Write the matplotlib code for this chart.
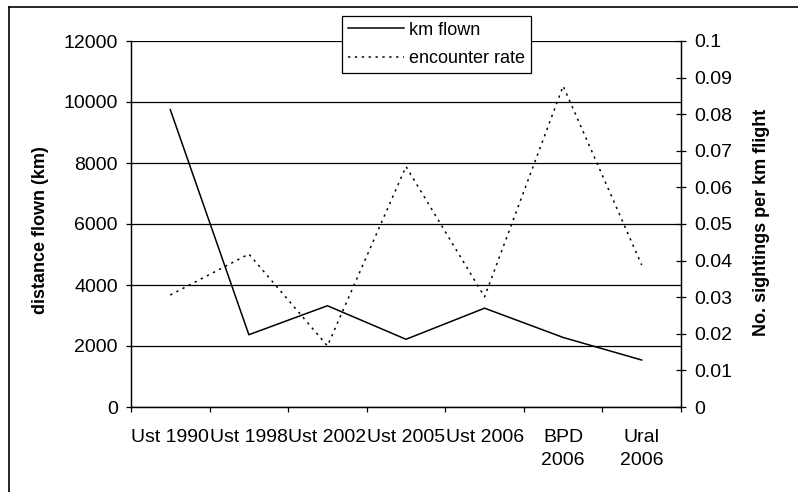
import matplotlib.pyplot as plt
from matplotlib.lines import Line2D
import numpy as np

plt.rcParams['font.family'] = ['Liberation Sans', 'DejaVu Sans']

surveys = ["Ust 1990", "Ust 1998", "Ust 2002", "Ust 2005", "Ust 2006", "BPD\n2006", "Ural\n2006"]
km_flown = [9750, 2370, 3320, 2220, 3240, 2280, 1540]
encounter_rate = [0.0306, 0.0418, 0.0167, 0.0657, 0.0301, 0.0877, 0.0388]

fig = plt.figure(figsize=(7.98, 4.92), dpi=100)
ax = fig.add_axes([131 / 798, 85 / 492, 550 / 798, 366 / 492])
ax2 = ax.twinx()

dotted = (0, (1.5, 3))
x = np.arange(len(surveys))
ax.plot(x, km_flown, color="black", lw=1.1, label="km flown")
ax2.plot(x, encounter_rate, color="black", lw=1.1, linestyle=dotted, label="encounter rate")

ax.set_xlim(-0.5, len(surveys) - 0.5)
ax.set_ylim(0, 12000)
ax2.set_ylim(0, 0.1)

ax.set_yticks(np.arange(0, 12001, 2000))
ax.yaxis.grid(True, color="black", lw=0.9)
ax.set_axisbelow(True)
ax2.set_yticks(np.arange(0, 0.101, 0.01))
ax2.set_yticklabels(["0"] + [f"{v:g}" for v in np.arange(0.01, 0.101, 0.01).round(2)])

# category ticks between groups, labels in the middle
ax.set_xticks(np.arange(-0.5, len(surveys), 1.0))
ax.set_xticklabels([])
ax.set_xticks(x, minor=True)
ax.set_xticklabels(surveys, minor=True)
for t in ax.get_xticklabels(minor=True):
    t.set_linespacing(1.45)
ax.tick_params(axis="x", which="minor", length=0, pad=16, labelsize=14)
ax.tick_params(axis="x", which="major", length=3.6, direction="out", width=0.9)
ax.tick_params(axis="y", length=3.6, direction="out", width=0.9, labelsize=14, pad=6)
ax2.tick_params(axis="y", length=7.2, direction="inout", width=0.9, labelsize=14, pad=6)

for a in (ax, ax2):
    a.spines["top"].set_visible(False)
    for s in ("left", "right", "bottom"):
        a.spines[s].set_linewidth(0.9)

ax.set_ylabel("distance flown (km)", fontsize=13, fontweight="bold")
ax.yaxis.set_label_coords(-0.149, 0.484)
ax2.set_ylabel("No. sightings per km flight", fontsize=13, fontweight="bold")
ax2.yaxis.set_label_coords(1.131, 0.504)

handles = [Line2D([], [], color="black", lw=1.1),
           Line2D([], [], color="black", lw=1.1, linestyle=dotted)]
leg = ax2.legend(handles, ["km flown", "encounter rate"], loc="upper left",
                 bbox_to_anchor=(342 / 798, 476 / 492), bbox_transform=fig.transFigure,
                 frameon=True, fancybox=False, framealpha=1, edgecolor="black",
                 fontsize=13, handlelength=3.1, handletextpad=0.3, borderpad=0.32,
                 labelspacing=0.62, borderaxespad=0)
leg.get_frame().set_linewidth(0.9)

# outer chart border (top and left edges visible)
fig.add_artist(Line2D([9 / 798, 1], [1 - 7 / 492, 1 - 7 / 492], color="black", lw=1.2, transform=fig.transFigure))
fig.add_artist(Line2D([9 / 798, 9 / 798], [0, 1 - 7 / 492], color="black", lw=1.2, transform=fig.transFigure))

fig.savefig("out.png", dpi=100)
